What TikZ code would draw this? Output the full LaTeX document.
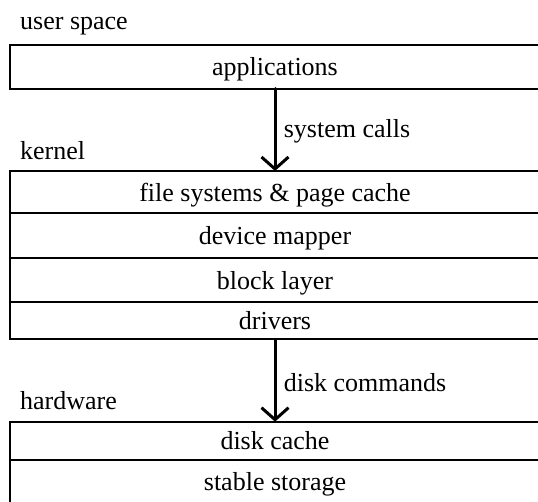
\documentclass[tikz,border=0pt]{standalone}
\usepackage{fontspec}
\setmainfont{Liberation Serif}
\usetikzlibrary{positioning, arrows.meta}

\begin{document}
\begin{tikzpicture}
	[x=1pt,y=-1pt,line cap=round,
	font=\fontsize{26}{31}\selectfont,
	%Styles
	tier/.style={draw,line width=2pt,minimum width=530pt,minimum height=#1,
		inner sep=0pt,outer sep=0pt,text height=19pt,text depth=1pt},
	domain text/.style={anchor=base west,inner sep=0pt},
	call arrow/.style={line width=3pt,-{Straight Barb[length=12pt,width=27pt]}},
	call text/.style={right=4pt,yshift=-2pt}
	]
	
	\useasboundingbox (0,0) rectangle (538,501);
	
	%The graphic
	
	%user space
	\node[domain text] (user) at (20,29) {user space};
	\node[tier=43.5pt] (apps) at (275,66.75) {applications};
	
	%kernel
	\node[domain text] (kernel) at (20,159) {kernel};
	\node[tier=42.3pt,anchor=north] (fs) at (275,171) {file systems \& page cache};
	\node[tier=45pt,below=0pt of fs] (dm) {device mapper};
	\node[tier=43.4pt,below=0pt of dm] (block) {block layer};
	\node[tier=37.6pt,below=0pt of block] (drivers) {drivers};
	
	%hardware
	\node[domain text] (hw) at (20,409) {hardware};
	\node[tier=38.3pt,anchor=north] (cache) at (275,421.7) {disk cache};
	\node[tier=43pt,below=0pt of cache] (storage) {stable storage};
	
	\draw[call arrow] (apps) -- (fs) node[midway,call text] {system calls};
	\draw[call arrow] (drivers) -- (cache) node[midway,call text] {disk commands};
\end{tikzpicture}
\end{document}
